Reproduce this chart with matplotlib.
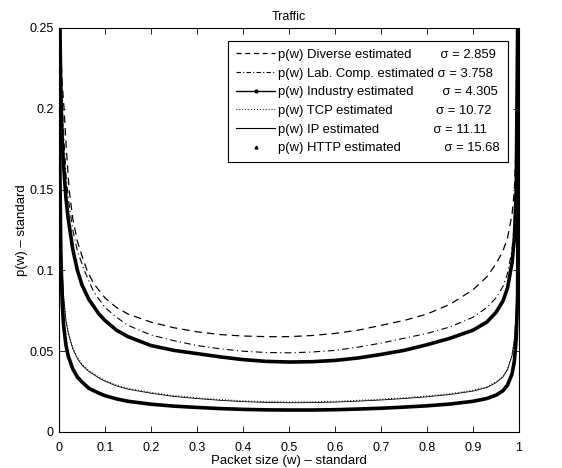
import matplotlib
matplotlib.use("Agg")
import matplotlib.pyplot as plt
from matplotlib.lines import Line2D

plt.rcParams['font.family'] = ['Liberation Sans', 'DejaVu Sans']

# ---- data ----
x_div = [0.003, 0.006, 0.011, 0.016, 0.022, 0.03, 0.04, 0.05, 0.061, 0.075, 0.1, 0.125, 0.15, 0.2, 0.25, 0.3, 0.35, 0.4, 0.45, 0.5, 0.55, 0.6, 0.65, 0.7, 0.75, 0.8, 0.85, 0.9, 0.93, 0.95, 0.965, 0.975, 0.985, 0.99, 0.994, 0.997]
y_div = [0.25, 0.22, 0.2, 0.175, 0.15, 0.132, 0.118, 0.109, 0.1, 0.092, 0.083, 0.077, 0.073, 0.068, 0.0645, 0.062, 0.0603, 0.0594, 0.059, 0.059, 0.0597, 0.061, 0.063, 0.066, 0.069, 0.073, 0.079, 0.088, 0.096, 0.104, 0.112, 0.12, 0.135, 0.15, 0.18, 0.25]

x_lab = [0.003, 0.006, 0.01, 0.015, 0.02, 0.03, 0.04, 0.055, 0.075, 0.1, 0.125, 0.15, 0.2, 0.25, 0.3, 0.35, 0.4, 0.45, 0.5, 0.55, 0.6, 0.65, 0.7, 0.75, 0.8, 0.85, 0.9, 0.93, 0.95, 0.965, 0.975, 0.985, 0.99, 0.994, 0.997]
y_lab = [0.25, 0.21, 0.185, 0.16, 0.145, 0.125, 0.112, 0.1, 0.087, 0.077, 0.071, 0.066, 0.06, 0.0565, 0.0535, 0.0515, 0.05, 0.0492, 0.049, 0.0495, 0.0505, 0.0525, 0.055, 0.058, 0.061, 0.065, 0.071, 0.077, 0.083, 0.09, 0.098, 0.113, 0.13, 0.16, 0.25]

x_ind = [0.002, 0.004, 0.007, 0.01, 0.015, 0.02, 0.03, 0.04, 0.05, 0.065, 0.087, 0.1, 0.125, 0.15, 0.2, 0.25, 0.3, 0.35, 0.4, 0.45, 0.5, 0.55, 0.6, 0.65, 0.7, 0.75, 0.8, 0.85, 0.9, 0.93, 0.95, 0.965, 0.975, 0.985, 0.99, 0.994, 0.997]
y_ind = [0.25, 0.21, 0.18, 0.165, 0.145, 0.132, 0.113, 0.1, 0.091, 0.082, 0.073, 0.069, 0.063, 0.059, 0.0535, 0.0505, 0.0485, 0.0465, 0.0448, 0.0437, 0.0433, 0.0435, 0.0443, 0.0458, 0.048, 0.0505, 0.054, 0.058, 0.063, 0.068, 0.074, 0.081, 0.089, 0.105, 0.12, 0.15, 0.25]

x_tcp = [0.001, 0.002, 0.004, 0.007, 0.01, 0.015, 0.02, 0.03, 0.04, 0.05, 0.065, 0.087, 0.1, 0.125, 0.15, 0.2, 0.25, 0.3, 0.35, 0.4, 0.45, 0.5, 0.55, 0.6, 0.65, 0.7, 0.75, 0.8, 0.85, 0.9, 0.93, 0.95, 0.965, 0.975, 0.985, 0.99, 0.994, 0.997, 0.999]
y_tcp = [0.25, 0.18, 0.13, 0.1, 0.085, 0.07, 0.062, 0.052, 0.046, 0.042, 0.038, 0.034, 0.032, 0.029, 0.027, 0.0245, 0.0225, 0.0212, 0.0201, 0.0193, 0.0188, 0.0186, 0.0187, 0.019, 0.0196, 0.0203, 0.0212, 0.0223, 0.0237, 0.0258, 0.028, 0.031, 0.0345, 0.039, 0.048, 0.058, 0.075, 0.11, 0.25]

x_ip = x_tcp
y_ip = [0.25, 0.178, 0.128, 0.099, 0.084, 0.069, 0.0613, 0.0514, 0.0454, 0.0414, 0.0374, 0.0334, 0.0314, 0.0285, 0.0265, 0.024, 0.022, 0.0207, 0.0196, 0.0188, 0.0183, 0.0181, 0.0182, 0.0185, 0.0191, 0.0198, 0.0207, 0.0218, 0.0232, 0.0253, 0.0275, 0.0305, 0.034, 0.0385, 0.0474, 0.0574, 0.0744, 0.109, 0.25]

x_http = [0.001, 0.002, 0.004, 0.007, 0.01, 0.015, 0.02, 0.03, 0.04, 0.05, 0.065, 0.087, 0.1, 0.125, 0.15, 0.2, 0.25, 0.3, 0.35, 0.4, 0.45, 0.5, 0.55, 0.6, 0.65, 0.7, 0.75, 0.8, 0.85, 0.9, 0.93, 0.95, 0.965, 0.975, 0.985, 0.99, 0.994, 0.997, 0.999]
y_http = [0.25, 0.16, 0.11, 0.08, 0.066, 0.054, 0.047, 0.039, 0.034, 0.031, 0.027, 0.024, 0.0225, 0.0205, 0.019, 0.0172, 0.016, 0.0152, 0.0145, 0.014, 0.0137, 0.0136, 0.0136, 0.0138, 0.0142, 0.0147, 0.0154, 0.0162, 0.0173, 0.019, 0.0207, 0.0228, 0.0255, 0.029, 0.036, 0.044, 0.058, 0.085, 0.25]

names = ['p(w) Diverse estimated', 'p(w) Lab. Comp. estimated', 'p(w) Industry estimated',
         'p(w) TCP estimated', 'p(w) IP estimated', 'p(w) HTTP estimated']
sigmas = ['2.859', '3.758', '4.305', '10.72', '11.11', '15.68']
pads = ['        ', ' ', '        ', '            ', '               ', '            ']

x_ticks = [0, 0.1, 0.2, 0.3, 0.4, 0.5, 0.6, 0.7, 0.8, 0.9, 1]
x_ticklabels = ['0', '0.1', '0.2', '0.3', '0.4', '0.5', '0.6', '0.7', '0.8', '0.9', '1']
y_ticks = [0, 0.05, 0.1, 0.15, 0.2, 0.25]
y_ticklabels = ['0', '0.05', '0.1', '0.15', '0.2', '0.25']

fig = plt.figure(figsize=(5.62, 4.68), dpi=100)
ax = fig.add_axes([59/562, 1-432/468, 460/562, 404/468])

ax.plot(x_div, y_div, color='k', ls=(0, (6, 4)), lw=0.9)
ax.plot(x_lab, y_lab, color='k', ls=(0, (6, 3, 1, 3)), lw=0.8)
ax.plot(x_ind, y_ind, color='k', ls='-', lw=2.6)
ax.plot(x_ip, y_ip, color='k', ls='-', lw=0.6)
ax.plot(x_tcp, y_tcp, color='k', ls=(0, (1, 2)), lw=0.7)
ax.plot(x_http, y_http, color='k', ls='-', lw=2.6)

ax.set_xlim(0, 1)
ax.set_ylim(0, 0.25)
ax.set_xticks(x_ticks)
ax.set_xticklabels(x_ticklabels)
ax.set_yticks(y_ticks)
ax.set_yticklabels(y_ticklabels)
ax.tick_params(direction='in', top=True, right=True, labelsize=9, length=4, width=0.6)
ax.tick_params(axis='x', pad=7)
ax.tick_params(axis='y', pad=4)
for s in ax.spines.values():
    s.set_linewidth(0.8)
ax.set_xlabel('Packet size (w) \u2013 standard', fontsize=9.5, labelpad=1)
ax.set_ylabel('p(w) \u2013 standard', fontsize=9.5, labelpad=1)
ax.set_title('Traffic', fontsize=9, pad=6)

handles = [
    Line2D([], [], color='k', ls=(0, (4, 3)), lw=0.9),
    Line2D([], [], color='k', ls=(0, (4, 2, 1, 2)), lw=0.8),
    Line2D([], [], color='k', ls='-', lw=1.0, marker='.', markersize=4, markevery=[1]),
    Line2D([], [], color='k', ls=(0, (1, 2)), lw=0.7),
    Line2D([], [], color='k', ls='-', lw=0.8),
    Line2D([], [], color='k', ls='none', marker='^', markersize=2),
]
labels = [f'{n}{p}\u03c3 = {s}' for n, p, s in zip(names, pads, sigmas)]
leg = ax.legend(handles, labels, loc='upper right', bbox_to_anchor=(0.976, 0.968),
                fontsize=9.4, frameon=True, fancybox=False, edgecolor='k', framealpha=1,
                handlelength=3.0, handletextpad=0.25, borderpad=0.6, labelspacing=0.5,
                borderaxespad=0)
leg.get_frame().set_linewidth(0.8)

fig.savefig('out.png', dpi=100)
